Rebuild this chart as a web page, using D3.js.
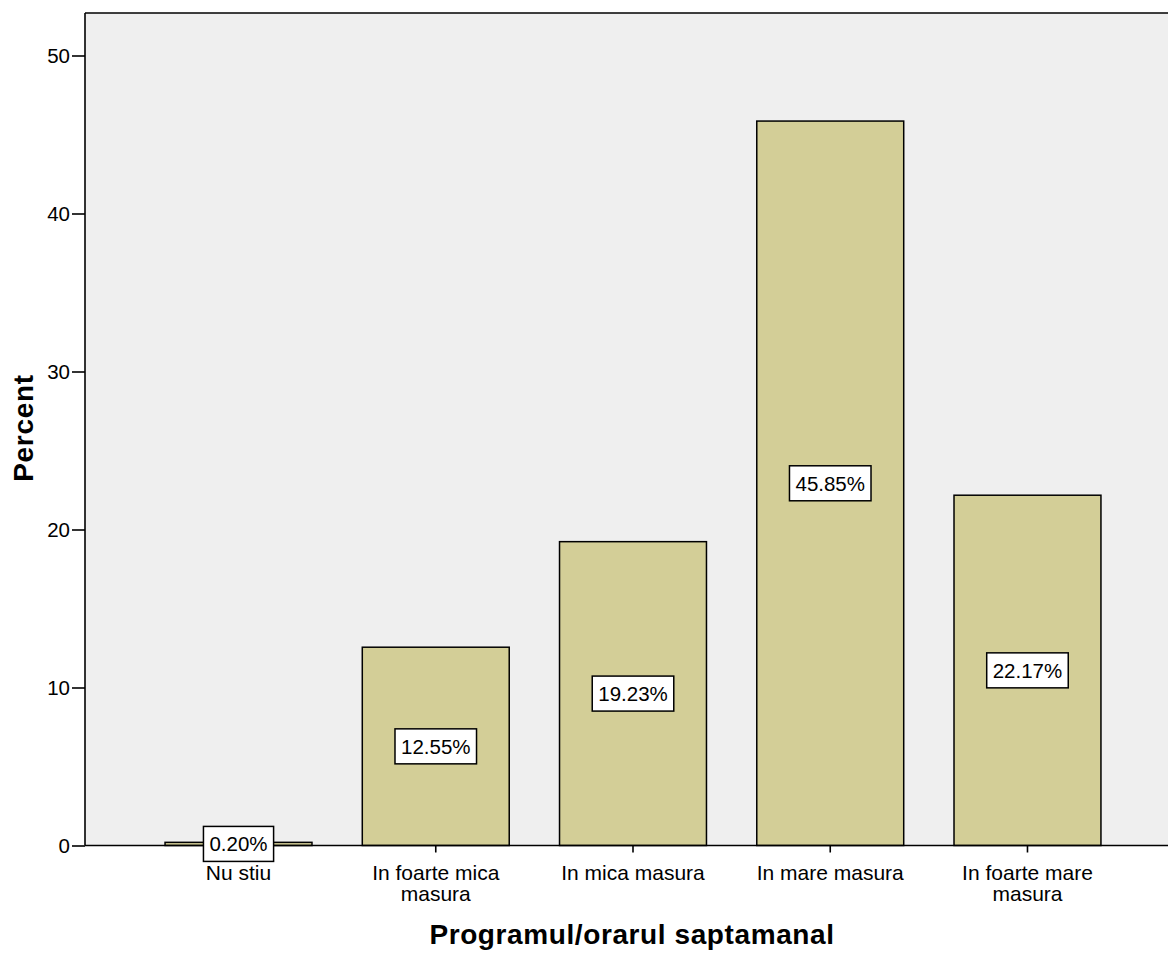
<!DOCTYPE html>
<html>
<head>
<meta charset="utf-8">
<script src="https://cdn.jsdelivr.net/npm/d3@7"></script>
<style>
  html, body { margin: 0; padding: 0; background: #ffffff; }
  svg { display: block; font-family: Arial, "Liberation Sans", sans-serif; }
</style>
</head>
<body>
<svg id="chart" width="1168" height="956"></svg>
<script>
// Response categories and their share of respondents (%)
const categories = ["Nu stiu", "In foarte mica masura", "In mica masura", "In mare masura", "In foarte mare masura"];
const categoryLines = [["Nu stiu"], ["In foarte mica", "masura"], ["In mica masura"], ["In mare masura"], ["In foarte mare", "masura"]];
const percents = [0.20, 12.55, 19.23, 45.85, 22.17];
const yTicks = [0, 10, 20, 30, 40, 50];

const svg = d3.select("#chart");
const plot = { left: 85, top: 13, right: 1168, bottom: 845.5 };

const y = d3.scaleLinear().domain([0, 50]).range([plot.bottom, 55.5]);
const x = d3.scaleBand()
  .domain(categories)
  .range([139.9, 1126.1])
  .paddingInner(0.255)
  .paddingOuter(0.1275);

// Plot background
svg.append("rect")
  .attr("x", plot.left).attr("y", plot.top)
  .attr("width", plot.right - plot.left).attr("height", plot.bottom - plot.top)
  .attr("fill", "#efefef");

// Frame: top edge
svg.append("line")
  .attr("x1", plot.left).attr("x2", plot.right)
  .attr("y1", plot.top).attr("y2", plot.top)
  .attr("stroke", "#000").attr("stroke-width", 1.6);

// Bars
svg.append("g").selectAll("rect")
  .data(percents)
  .join("rect")
  .attr("x", (d, i) => x(categories[i]))
  .attr("y", d => y(d))
  .attr("width", x.bandwidth())
  .attr("height", d => y(0) - y(d))
  .attr("fill", "#d3ce97")
  .attr("stroke", "#000")
  .attr("stroke-width", 1.5);

// Y axis
const yAxis = svg.append("g")
  .attr("transform", `translate(${plot.left},0)`)
  .call(d3.axisLeft(y).tickValues(yTicks).tickSize(13).tickPadding(2).tickFormat(d3.format("d")));
yAxis.select(".domain").attr("stroke", "#000").attr("stroke-width", 1.6)
  .attr("d", `M0,${plot.top}V${plot.bottom}`);
yAxis.selectAll(".tick line").attr("stroke", "#000").attr("stroke-width", 1.6);
yAxis.selectAll(".tick text")
  .attr("fill", "#000")
  .style("font-size", "20.5px")
  .style("font-family", "Arial, 'Liberation Sans', sans-serif");

// X axis
const xAxis = svg.append("g")
  .attr("transform", `translate(0,${plot.bottom})`)
  .call(d3.axisBottom(x).tickSize(7).tickFormat(""));
xAxis.select(".domain").attr("stroke", "#000").attr("stroke-width", 1.6)
  .attr("d", `M${plot.left},0H${plot.right}`);
xAxis.selectAll(".tick line").attr("stroke", "#000").attr("stroke-width", 1.6);

// Category labels (wrapped onto two lines where needed)
const catLabels = svg.append("g").selectAll("text")
  .data(categories)
  .join("text")
  .attr("x", d => x(d) + x.bandwidth() / 2)
  .attr("y", 880)
  .attr("text-anchor", "middle")
  .attr("fill", "#000")
  .style("font-size", "21px");
catLabels.each(function(d, i) {
  const t = d3.select(this);
  categoryLines[i].forEach((line, j) => {
    t.append("tspan")
      .attr("x", x(d) + x.bandwidth() / 2)
      .attr("dy", j === 0 ? 0 : 21)
      .text(line);
  });
});

// Value labels in boxes at the middle of each bar
const labels = svg.append("g").selectAll("g")
  .data(percents)
  .join("g")
  .attr("transform", (d, i) => `translate(${x(categories[i]) + x.bandwidth() / 2},${(y(d) + y(0)) / 2})`);
labels.append("text")
  .attr("text-anchor", "middle")
  .attr("dy", "0.36em")
  .attr("fill", "#000")
  .style("font-size", "20.5px")
  .text(d => d.toFixed(2) + "%");
labels.each(function() {
  const g = d3.select(this);
  const bb = g.select("text").node().getBBox();
  g.insert("rect", "text")
    .attr("x", bb.x - 6).attr("y", -17.5)
    .attr("width", bb.width + 12).attr("height", 35)
    .attr("fill", "#fff")
    .attr("stroke", "#000")
    .attr("stroke-width", 1.5);
});

// Axis titles
svg.append("text")
  .attr("x", 632)
  .attr("y", 944)
  .attr("text-anchor", "middle")
  .attr("fill", "#000")
  .style("font-size", "28px")
  .style("font-weight", "bold")
  .style("letter-spacing", "0.6px")
  .text("Programul/orarul saptamanal");

svg.append("text")
  .attr("transform", `translate(33,428) rotate(-90)`)
  .attr("text-anchor", "middle")
  .attr("fill", "#000")
  .style("font-size", "28px")
  .style("font-weight", "bold")
  .style("letter-spacing", "0.7px")
  .text("Percent");
</script>
</body>
</html>
